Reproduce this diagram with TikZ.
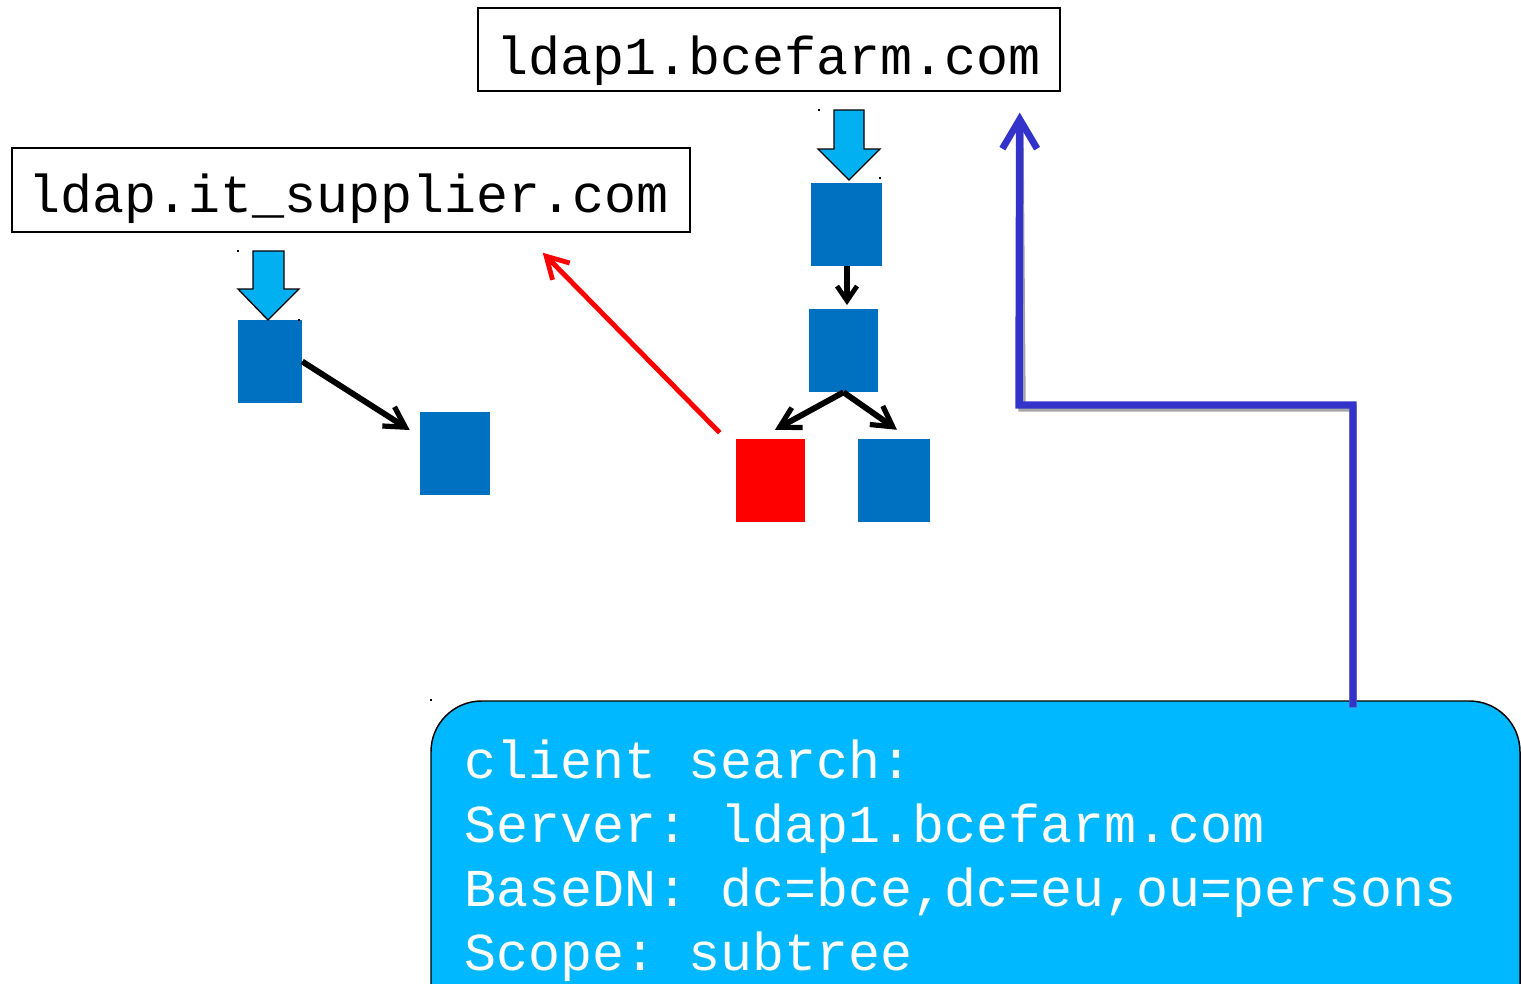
\documentclass[tikz,border=0pt]{standalone}
\usepackage{fontspec}
\setmonofont{Liberation Mono}
\usetikzlibrary{arrows.meta,fit,calc}
\definecolor{entry}{HTML}{0070C0}
\definecolor{sky}{HTML}{00B0F0}
\definecolor{panel}{HTML}{00B8FF}
\definecolor{refline}{HTML}{3333CC}
\tikzset{
  sq/.style={fill=entry, draw=none, inner sep=0pt},
  redsq/.style={fill=red, draw=none, inner sep=0pt},
  hostbox/.style={draw=black, line width=1.1pt, inner sep=0pt},
  hosttext/.style={anchor=base west, inner sep=0pt, font=\ttfamily\fontsize{40}{48}\selectfont},
  shortlink/.style={draw=black, line width=4.2pt, -{Straight Barb[length=11pt,width=15pt,line width=3.6pt]}},
  link/.style={draw=black, line width=4.4pt, -{Straight Barb[length=15pt,width=17pt,line width=3.9pt]}},
  referral/.style={draw=red, line width=3.7pt, -{Straight Barb[length=16pt,width=18pt,line width=3.6pt]}},
  followup/.style={line width=5.6pt, -{Straight Barb[length=22pt,width=26pt,line width=5pt]}},
  entrypoint/.style={fill=sky, draw=black, line width=1pt, line join=miter},
  dot/.style={fill=black, draw=none}
}
\begin{document}
\begin{tikzpicture}[x=0.75pt, y=-0.75pt]
\useasboundingbox (0,0) rectangle (1521,983);
\clip (0,0) rectangle (1521,983);

% server boxes
\node[hostbox, fit={(478,8)(1060,91)}] (srv1) {};
\node[hosttext] (srv1t) at (496,74) {ldap1.bcefarm.com};
\node[hostbox, fit={(12,148)(690,232)}] (srv2) {};
\node[hosttext] (srv2t) at (28,212) {ldap.it\_supplier.com};

% directory entries
\node[sq, fit={(238,320)(302,403)}] (a1) {};
\node[sq, fit={(420,412)(490,495)}] (a2) {};
\node[sq, fit={(811,183)(882,266)}] (b1) {};
\node[sq, fit={(809,309)(878,392)}] (b2) {};
\node[redsq, fit={(736,439)(805,522)}] (ref) {};
\node[sq, fit={(858,439)(930,522)}] (b3) {};

% naming-context entry points
\draw[entrypoint] (834,110) -- (864,110) -- (864,149) -- (880,149) -- (849,180)
  -- (818,149) -- (834,149) -- cycle;
\draw[entrypoint] (253,251) -- (284,251) -- (284,289) -- (299,289) -- (268,320)
  -- (238,289) -- (253,289) -- cycle;
\fill[dot] (818,109) rectangle (820,111);
\fill[dot] (879,177) rectangle (881,179);
\fill[dot] (237,250) rectangle (239,252);
\fill[dot] (298,319) rectangle (300,321);
\fill[dot] (430,699) rectangle (432,701);

% tree links
\draw[shortlink] (b1.south -| 847,0) -- (847,305);
\draw[link] (b2.south) -- ($(ref.north)+(4.5,-9)$);
\draw[link] (b2.south) -- ($(b3.north)+(3,-9)$);
\draw[link] (a1.east) -- ($(a2.west)+(-10,-23.5)$);

% referral
\draw[referral] ($(ref.north west)+(-16,-6)$) -- ($(srv2.south east)+(-148,20)$);

% client request panel
\node[draw=black, line width=1.1pt, fill=panel, rounded corners=38pt,
      inner sep=0pt, fit={(431,701)(1520,1040)}] (panel) {};
\node[anchor=base west, inner sep=0pt, text=white, align=left,
      font=\ttfamily\fontsize{40}{47.8}\selectfont] (query) at (464,970)
  {client search:\\Server: ldap1.bcefarm.com\\BaseDN: dc=bce,dc=eu,ou=persons\\Scope: subtree};

% follow-up path to the first server
\draw[followup, draw=gray!70, shift={(3,3)}] ($(panel.north)+(377.5,7)$) |- (1019,405) -- ($(srv1.south east)+(-41,21)$);
\draw[followup, draw=refline] ($(panel.north)+(377.5,7)$) |- (1019,405) -- ($(srv1.south east)+(-41,21)$);
\end{tikzpicture}
\end{document}
